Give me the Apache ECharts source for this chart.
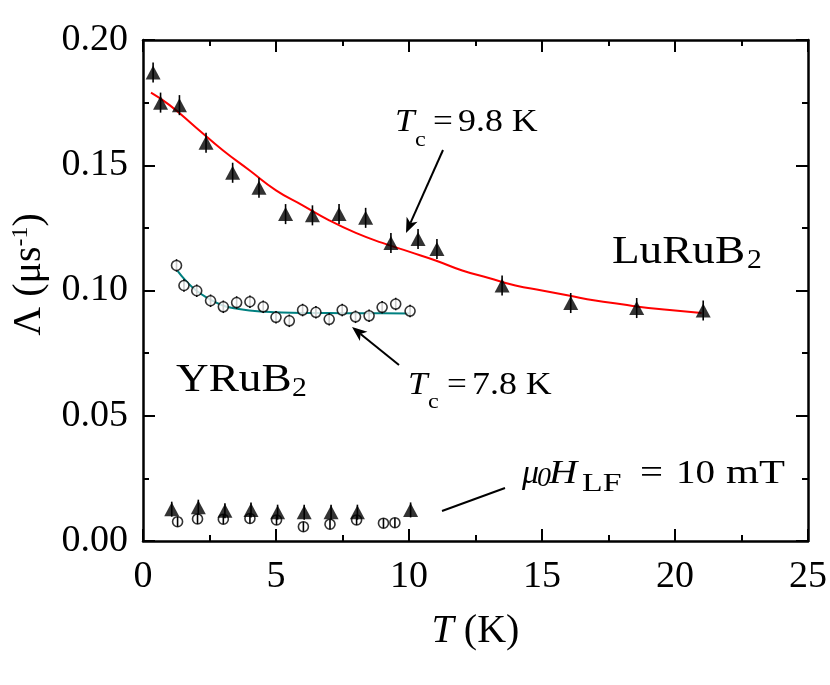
<!DOCTYPE html>
<html>
<head>
<meta charset="utf-8">
<script src="https://cdn.jsdelivr.net/npm/echarts@6/dist/echarts.min.js"></script>
<style>
  html, body { margin: 0; padding: 0; background: #fff; }
  #chart { width: 830px; height: 685px; }
</style>
</head>
<body>
<div id="chart"></div>
<script>
// LuRuB2, zero field (filled triangles)
var luT = [0.38, 0.66, 1.37, 2.37, 3.37, 4.36, 5.36, 6.37, 7.37, 8.37, 9.32, 10.34, 11.05, 13.5, 16.08, 18.56, 21.06];
var luL = [0.187, 0.175, 0.174, 0.159, 0.147, 0.141, 0.1305, 0.130, 0.1305, 0.129, 0.119, 0.1206, 0.1166, 0.102, 0.095, 0.093, 0.092];
var luErr = [0.004, 0.004, 0.004, 0.004, 0.004, 0.004, 0.004, 0.004, 0.004, 0.004, 0.004, 0.004, 0.004, 0.004, 0.004, 0.004, 0.004];

// YRuB2, zero field (open circles)
var yT = [1.26, 1.54, 2.02, 2.54, 3.02, 3.52, 4.02, 4.52, 5.0, 5.5, 6.0, 6.5, 7.0, 7.49, 7.99, 8.5, 8.99, 9.5, 10.04];
var yL = [0.110, 0.102, 0.0999, 0.0959, 0.0935, 0.0952, 0.0955, 0.0935, 0.0893, 0.0879, 0.0922, 0.0913, 0.0885, 0.0922, 0.0895, 0.0899, 0.0933, 0.0946, 0.0918];
var yErr = [0.0025, 0.0025, 0.0025, 0.0025, 0.0025, 0.0025, 0.0025, 0.0025, 0.0025, 0.0025, 0.0025, 0.0025, 0.0025, 0.0025, 0.0025, 0.0025, 0.0025, 0.0025, 0.0025];

// 10 mT longitudinal field
var lfLuT = [1.08, 2.08, 3.08, 4.06, 5.06, 6.06, 7.07, 8.06, 10.06];
var lfLuL = [0.0127, 0.0135, 0.0121, 0.0124, 0.0115, 0.0115, 0.0115, 0.0115, 0.0124];
var lfLuErr = [0.003, 0.003, 0.003, 0.003, 0.003, 0.003, 0.003, 0.003, 0.003];
var lfYT = [1.3, 2.05, 3.02, 4.02, 5.02, 6.03, 7.03, 8.03, 9.04, 9.47];
var lfYL = [0.0077, 0.0088, 0.0087, 0.009, 0.0084, 0.0057, 0.0067, 0.0084, 0.0071, 0.0073];
var lfYErr = [0.002, 0.002, 0.002, 0.002, 0.002, 0.002, 0.002, 0.002, 0.002, 0.002];

// fit curves
var fitLuT = [0.3, 1, 2, 3, 4, 5, 6, 7, 8, 9, 10, 11, 12, 13, 14, 15, 16, 17, 18, 19, 20, 21];
var fitLuL = [0.179, 0.174, 0.165, 0.156, 0.148, 0.140, 0.134, 0.128, 0.123, 0.119, 0.1155, 0.112, 0.108, 0.105, 0.102, 0.100, 0.098, 0.096, 0.0945, 0.093, 0.092, 0.091];
var fitYT = [1.3, 1.6, 2.0, 2.5, 3.0, 3.5, 4.0, 5.0, 6.0, 7.0, 8.0, 9.0, 10.0];
var fitYL = [0.1078, 0.104, 0.100, 0.0966, 0.094, 0.0928, 0.092, 0.0913, 0.091, 0.091, 0.0909, 0.0909, 0.0908];

var serif = "'Liberation Serif', 'Times New Roman', serif";

function pairs(xs, ys) {
  return xs.map(function (x, i) { return [x, ys[i]]; });
}
function bars(xs, ys, es) {
  return xs.map(function (x, i) { return [x, ys[i] - es[i], ys[i] + es[i]]; });
}
function errBar(params, api) {
  var a = api.coord([api.value(0), api.value(1)]);
  var b = api.coord([api.value(0), api.value(2)]);
  return {
    type: 'line',
    shape: { x1: a[0], y1: a[1], x2: b[0], y2: b[1] },
    style: { stroke: '#000', lineWidth: 1.6 }
  };
}
function errSeries(data) {
  return {
    type: 'custom', renderItem: errBar, data: data, z: 3,
    encode: { x: 0, y: [1, 2] }, silent: true
  };
}

// text piece helper
function txt(str, x, y, size, italic, sx) {
  return {
    type: 'text', x: x, y: y, scaleX: sx || 1, silent: true,
    style: {
      text: str, fill: '#000', fontFamily: serif, fontSize: size,
      fontStyle: italic ? 'italic' : 'normal',
      align: 'left', verticalAlign: 'middle'
    }
  };
}
// arrow from (x1,y1) to (x2,y2) with head at the end
function arrow(x1, y1, x2, y2) {
  var dx = x2 - x1, dy = y2 - y1, len = Math.sqrt(dx * dx + dy * dy);
  var ux = dx / len, uy = dy / len, hl = 15, hw = 6;
  var bx = x2 - ux * hl, by = y2 - uy * hl;
  return [
    { type: 'line', silent: true, shape: { x1: x1, y1: y1, x2: bx + ux * 4, y2: by + uy * 4 }, style: { stroke: '#000', lineWidth: 2 } },
    { type: 'polygon', silent: true, shape: { points: [[x2, y2], [bx - uy * hw, by + ux * hw], [bx + ux * 4, by + uy * 4], [bx + uy * hw, by - ux * hw]] }, style: { fill: '#000' } }
  ];
}

var chart = echarts.init(document.getElementById('chart'));

var axisCommon = {
  axisLine: { show: true, onZero: false, lineStyle: { color: '#000', width: 2.5 } },
  axisTick: { show: true, inside: true, length: 12, lineStyle: { color: '#000', width: 2 } },
  minorTick: { show: true, splitNumber: 2, length: 6, lineStyle: { color: '#000', width: 2 } },
  splitLine: { show: false }
};

var option = {
  animation: false,
  backgroundColor: '#fff',
  grid: { left: 143, right: 22, top: 40, bottom: 144 },
  xAxis: [
    Object.assign({}, axisCommon, {
      type: 'value', min: 0, max: 25, interval: 5, position: 'bottom',
      name: '{i|T} (K)', nameLocation: 'middle', nameGap: 70,
      nameTextStyle: { fontFamily: serif, fontSize: 40, color: '#000', rich: { i: { fontFamily: serif, fontSize: 40, fontStyle: 'italic' } } },
      axisLabel: { fontFamily: serif, fontSize: 38, color: '#000', margin: 17 }
    }),
    Object.assign({}, axisCommon, {
      type: 'value', min: 0, max: 25, interval: 5, position: 'top',
      axisLabel: { show: false }
    })
  ],
  yAxis: [
    Object.assign({}, axisCommon, {
      type: 'value', min: 0, max: 0.2, interval: 0.05, position: 'left',
      name: 'Λ (μs{sup|-1})', nameLocation: 'middle', nameGap: 94,
      nameTextStyle: {
        fontFamily: serif, fontSize: 40, color: '#000', padding: [0, 0, 0, 32],
        rich: { sup: { fontFamily: serif, fontSize: 24, verticalAlign: 'top', padding: [0, 0, 16, 0] } }
      },
      axisLabel: { fontFamily: serif, fontSize: 38, color: '#000', margin: 15, formatter: function (v) { return v.toFixed(2); } }
    }),
    Object.assign({}, axisCommon, {
      type: 'value', min: 0, max: 0.2, interval: 0.05, position: 'right',
      axisLabel: { show: false }
    })
  ],
  series: [
    { type: 'line', data: pairs(fitLuT, fitLuL), smooth: true, showSymbol: false, z: 2,
      lineStyle: { color: '#ff0000', width: 2 } },
    { type: 'line', data: pairs(fitYT, fitYL), smooth: true, showSymbol: false, z: 2,
      lineStyle: { color: '#008080', width: 2 } },
    errSeries(bars(luT, luL, luErr)),
    errSeries(bars(yT, yL, yErr)),
    errSeries(bars(lfLuT, lfLuL, lfLuErr)),
    errSeries(bars(lfYT, lfYL, lfYErr)),
    { type: 'scatter', data: pairs(luT, luL), symbol: 'triangle', symbolSize: [15, 14], z: 4,
      itemStyle: { color: '#000' } },
    { type: 'scatter', data: pairs(yT, yL), symbol: 'circle', symbolSize: 10, z: 4,
      itemStyle: { color: '#fff', borderColor: '#000', borderWidth: 1.6 } },
    { type: 'scatter', data: pairs(lfLuT, lfLuL), symbol: 'triangle', symbolSize: [15, 14], z: 4,
      itemStyle: { color: '#000' } },
    { type: 'scatter', data: pairs(lfYT, lfYL), symbol: 'circle', symbolSize: 10, z: 4,
      itemStyle: { color: 'rgba(255,255,255,0)', borderColor: '#000', borderWidth: 1.6 } }
  ],
  graphic: [
    txt('T', 395, 123, 32, true, 1.1),
    txt('c', 415, 140, 22, false, 1.1),
    txt('=', 433, 123, 32, false, 1.1),
    txt('9.8 K', 458, 123, 32, false, 1.12),
    txt('T', 408, 386, 32, true, 1.1),
    txt('c', 428, 402, 22, false, 1.1),
    txt('=', 447, 386, 32, false, 1.1),
    txt('7.8 K', 472, 386, 32, false, 1.12),
    txt('LuRuB', 612, 252, 40, false, 1.13),
    txt('2', 747, 261, 27, false, 1.1),
    txt('YRuB', 176, 380, 40, false, 1.13),
    txt('2', 292, 389, 27, false, 1.1),
    txt('μ', 522, 474, 34, true, 1),
    txt('0', 537, 479, 28, true, 1),
    txt('H', 549, 474, 34, true, 1.15),
    txt('LF', 582, 484, 26, false, 1.3),
    txt('=', 640, 474, 34, false, 1.2),
    txt('10', 676, 474, 34, false, 1.15),
    txt('mT', 726, 474, 34, false, 1.25),
    { type: 'line', silent: true, shape: { x1: 442, y1: 511, x2: 505, y2: 488 }, style: { stroke: '#000', lineWidth: 2 } }
  ].concat(arrow(443, 150, 406, 233)).concat(arrow(399, 365, 352, 327))
};

chart.setOption(option);
</script>
</body>
</html>
